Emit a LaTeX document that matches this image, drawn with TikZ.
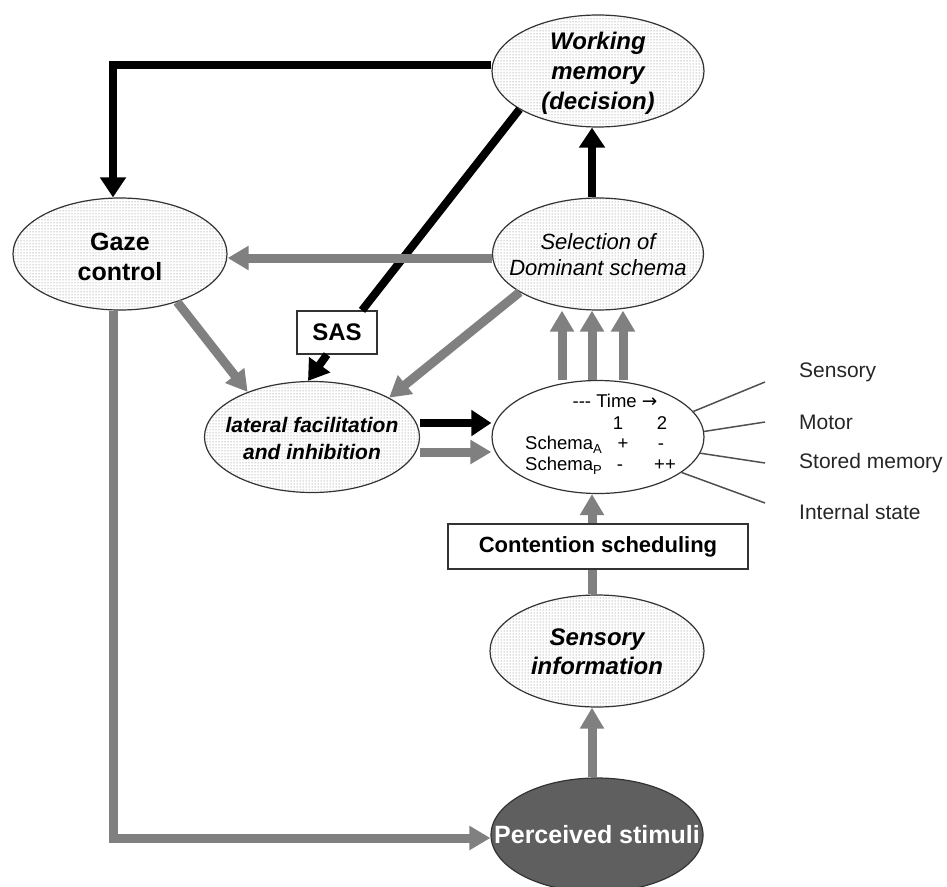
\documentclass[tikz,border=0pt]{standalone}
\usepackage{fontspec}
\setmainfont{Liberation Sans}
\newfontfamily\djv{DejaVu Sans}
\usetikzlibrary{shapes.geometric,arrows.meta,patterns}
\definecolor{grayarrow}{RGB}{128,128,128}
\definecolor{darkfill}{RGB}{95,95,95}
\definecolor{thinline}{RGB}{80,80,80}
\newcommand{\subsc}[1]{\raisebox{-4pt}{\fontsize{13}{13}\selectfont #1}}
\begin{document}
\begin{tikzpicture}[x=1pt,y=-1pt,
  ell/.style={ellipse,draw=black!80,line width=1.2pt,inner sep=0pt,
    preaction={fill=white},pattern=dots,pattern color=black!55},
  plainell/.style={ellipse,draw=black!80,line width=1.2pt,inner sep=0pt,fill=white},
  darkell/.style={ellipse,draw=black!80,line width=1.2pt,inner sep=0pt,fill=darkfill},
  boxnode/.style={rectangle,draw=black!80,line width=1.2pt,fill=white,inner sep=0pt},
  bi/.style={font=\fontsize{24}{30}\selectfont\bfseries\itshape,align=center},
  blk/.style={line width=8pt,draw=black,-{Triangle[width=25pt,length=20pt]}},
  blkline/.style={line width=8pt,draw=black},
  gry/.style={line width=9pt,draw=grayarrow,-{Triangle[width=23pt,length=21pt]}},
  gryline/.style={line width=9pt,draw=grayarrow},
  tbl/.style={font=\fontsize{18.5}{20}\selectfont,inner sep=0pt,anchor=base},
  side/.style={font=\fontsize{21}{24}\selectfont,anchor=west,inner sep=0pt,text=black!85},
  thin/.style={line width=1.5pt,draw=thinline}
]
\useasboundingbox (0,0) rectangle (947,886);

% ellipses
\node[ell,minimum width=212pt,minimum height=112pt] (wm) at (598,71) {};
\node[ell,minimum width=214pt,minimum height=112pt] (gaze) at (120,254) {};
\node[ell,minimum width=211pt,minimum height=112pt] (sel) at (598,254) {};
\node[ell,minimum width=215pt,minimum height=111pt] (lat) at (312,437) {};
\node[plainell,minimum width=212pt,minimum height=113pt] (sch) at (598,437) {};
\node[ell,minimum width=214pt,minimum height=112pt] (sens) at (597,651) {};
\node[darkell,minimum width=212pt,minimum height=114pt] (perc) at (597,835) {};

% boxes
\node[boxnode,minimum width=80pt,minimum height=43pt,font=\fontsize{24}{28}\selectfont\bfseries] (sas) at (337,332.5) {SAS};
\node[boxnode,minimum width=300pt,minimum height=45pt,font=\fontsize{22}{26}\selectfont\bfseries] (cont) at (598,546.5) {Contention scheduling};

% texts in ellipses
\node[bi] (wmT) at (598,73) {Working\\memory\\(decision)};
\node[font=\fontsize{25}{30}\selectfont\bfseries,align=center] (gazeT) at (120,257) {Gaze\\control};
\node[font=\fontsize{22}{26}\selectfont\itshape,align=center] (selT) at (598,255) {Selection of\\Dominant schema};
\node[font=\fontsize{21}{27}\selectfont\bfseries\itshape,align=center] (latT) at (312,438) {lateral facilitation\\and inhibition};
\node[bi,font=\fontsize{24}{29}\selectfont\bfseries\itshape] (sensT) at (597,652) {Sensory\\information};
\node[font=\fontsize{25}{30}\selectfont\bfseries,text=white] (percT) at (597,835) {Perceived stimuli};

% schema table
\node[tbl] (tTime) at (615,407) {-{}-{}- Time {\djv→}};
\node[tbl] (t1) at (618,429) {1};
\node[tbl] (t2) at (662,429) {2};
\node[tbl,anchor=base west] (sA) at (525,449) {Schema\subsc{A}};
\node[tbl] (sA1) at (623,449) {+};
\node[tbl] (sA2) at (661,449) {-};
\node[tbl,anchor=base west] (sP) at (525,470) {Schema\subsc{P}};
\node[tbl] (sP1) at (620,470) {-};
\node[tbl] (sP2) at (665,470) {++};

% side labels
\node[side] (lSens) at (799,372) {Sensory};
\node[side] (lMot) at (799,422) {Motor};
\node[side] (lMem) at (799,463) {Stored memory};
\node[side] (lInt) at (799,512) {Internal state};
\coordinate (e1) at (765,382);
\coordinate (e2) at (765,422);
\coordinate (e3) at (765,463);
\coordinate (e4) at (765,503);
\draw[thin] (sch.15) -- (e1);
\draw[thin] (sch.3) -- (e2);
\draw[thin] (sch.-9) -- (e3);
\draw[thin] (sch.-23) -- (e4);

% black arrows
\draw[blk] ([yshift=6pt]wm.west) -| ([xshift=-7pt]gaze.north);
\draw[blkline] (wm.206) -- ([xshift=25pt]sas.north);
\draw[blk] ([xshift=-10pt]sas.south) -- ([xshift=-4pt]lat.north);
\draw[blk] ([xshift=-6pt]sel.north) -- ([xshift=-6pt]wm.south);
\draw[blk] ([yshift=14pt]lat.east) -- ([yshift=14pt]sch.west);

% gray arrows
\draw[gry] ([yshift=-4pt]sel.west) -- ([yshift=-4pt]gaze.east);
\draw[gry] (gaze.-40) -- (lat.145);
\draw[gry] (sel.206) -- (lat.27);
\draw[gry] ([yshift=-15pt]lat.east) -- ([yshift=-15pt]sch.west);
\foreach \dx in {-36,-6,25} {
  \draw[gry] ([xshift=\dx pt]sch.north) -- ([xshift=\dx pt]sel.south);
}
\draw[gry] ([xshift=-6pt]cont.north) -- ([xshift=-6pt]sch.south);
\draw[gryline] ([xshift=-5pt]sens.north) -- ([xshift=-6pt]cont.south);
\draw[gry] ([xshift=-5pt]perc.north) -- ([xshift=-5pt]sens.south);
\draw[gry] ([xshift=-7pt]gaze.south) |- ([yshift=-3pt]perc.west);
\end{tikzpicture}
\end{document}
